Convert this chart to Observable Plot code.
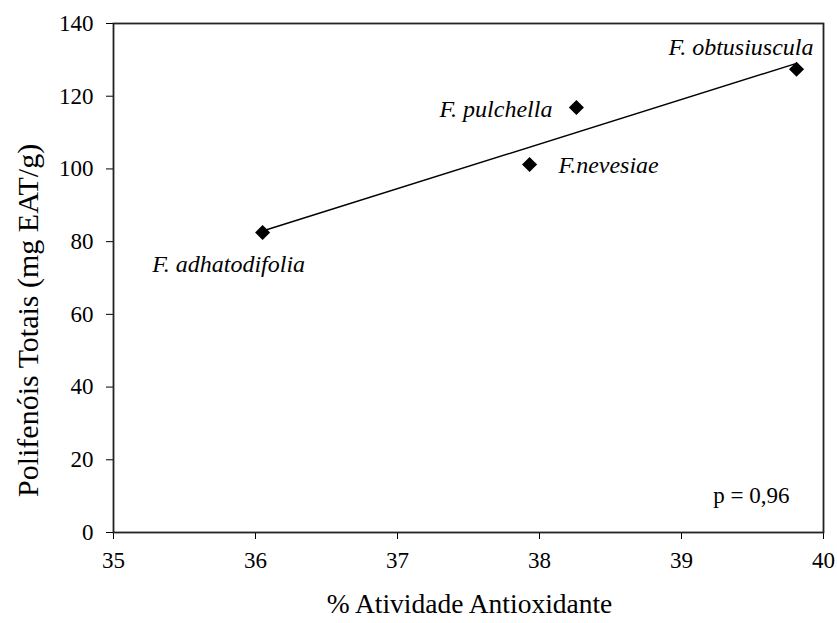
<!DOCTYPE html>
<html>
<head>
<meta charset="utf-8">
<script src="https://cdn.jsdelivr.net/npm/d3@7"></script>
<script src="https://cdn.jsdelivr.net/npm/@observablehq/plot@0.6"></script>
<style>
  html, body { margin: 0; padding: 0; background: #fff; }
  #chart svg { display: block; }
  #chart svg, #chart svg text, #chart svg g {
    font-family: "Liberation Serif", "Times New Roman", Times, serif !important;
  }
</style>
</head>
<body>
<div id="chart"></div>
<script>
// Data
const species = ["F. adhatodifolia", "F.nevesiae", "F. pulchella", "F. obtusiuscula"];
const antioxidant = [36.05, 37.93, 38.26, 39.81];   // % Atividade Antioxidante
const polyphenols = [82.5, 101.2, 116.9, 127.4];    // Polifenóis Totais (mg EAT/g)
const xTicks = [35, 36, 37, 38, 39, 40];
const yTicks = [0, 20, 40, 60, 80, 100, 120, 140];
const xTitle = "% Atividade Antioxidante";
const yTitle = "Polifenóis Totais (mg EAT/g)";
const annotation = "p = 0,96";

const data = species.map((s, i) => ({species: s, x: antioxidant[i], y: polyphenols[i]}));

// label placement per species (offsets from point)
const labelStyle = {
  "F. adhatodifolia": {anchor: "middle", dx: -34, dy: 32},
  "F.nevesiae": {anchor: "start", dx: 29, dy: 1},
  "F. pulchella": {anchor: "end", dx: -24, dy: 2},
  "F. obtusiuscula": {anchor: "end", dx: 17, dy: -22}
};

// regression line
let regression;
if (typeof Plot.linearRegressionY === "function") {
  regression = Plot.linearRegressionY(data, {x: "x", y: "y", ci: 0, stroke: "#000", strokeWidth: 1.5});
} else {
  const mx = d3.mean(data, d => d.x), my = d3.mean(data, d => d.y);
  const b = d3.sum(data, d => (d.x - mx) * (d.y - my)) / d3.sum(data, d => (d.x - mx) ** 2);
  const ext = d3.extent(data, d => d.x);
  const fit = ext.map(x => ({x, y: my + b * (x - mx)}));
  regression = Plot.line(fit, {x: "x", y: "y", stroke: "#000", strokeWidth: 1.5});
}

const labelMarks = Object.entries(labelStyle).map(([name, st]) =>
  Plot.text(data.filter(d => d.species === name), {
    x: "x", y: "y", text: "species",
    textAnchor: st.anchor, dx: st.dx, dy: st.dy,
    fontStyle: "italic", fontSize: 24, fill: "#000"
  })
);

const chart = Plot.plot({
  width: 837,
  height: 623,
  marginLeft: 113,
  marginRight: 14,
  marginTop: 23,
  marginBottom: 91,
  style: {fontFamily: "'Liberation Serif', 'Times New Roman', serif", fontSize: "23px", color: "#000", background: "#fff"},
  x: {domain: [35, 40], ticks: xTicks, tickSize: 7, tickPadding: 12, label: null, tickFormat: d => String(d)},
  y: {domain: [0, 140], ticks: yTicks, tickSize: 7, tickPadding: 13, label: null, tickFormat: d => String(d)},
  marks: [
    Plot.frame({stroke: "#222", strokeWidth: 1.8}),
    regression,
    Plot.dot(data, {x: "x", y: "y", symbol: "diamond2", r: 6.8, fill: "#000", stroke: "none"}),
    ...labelMarks,
    Plot.text([annotation], {frameAnchor: "bottom-right", text: d => d, textAnchor: "end", dx: -34, dy: -30, fontSize: 23, fill: "#000"}),
    Plot.text([xTitle], {frameAnchor: "bottom", text: d => d, textAnchor: "middle", dx: 1, dy: 80, fontSize: 27.5, fill: "#000"}),
    Plot.text([yTitle], {frameAnchor: "left", text: d => d, rotate: -90, textAnchor: "start", dx: -85.5, dy: 219, fontSize: 30, fill: "#000"})
  ]
});
document.getElementById("chart").appendChild(chart);
</script>
</body>
</html>
